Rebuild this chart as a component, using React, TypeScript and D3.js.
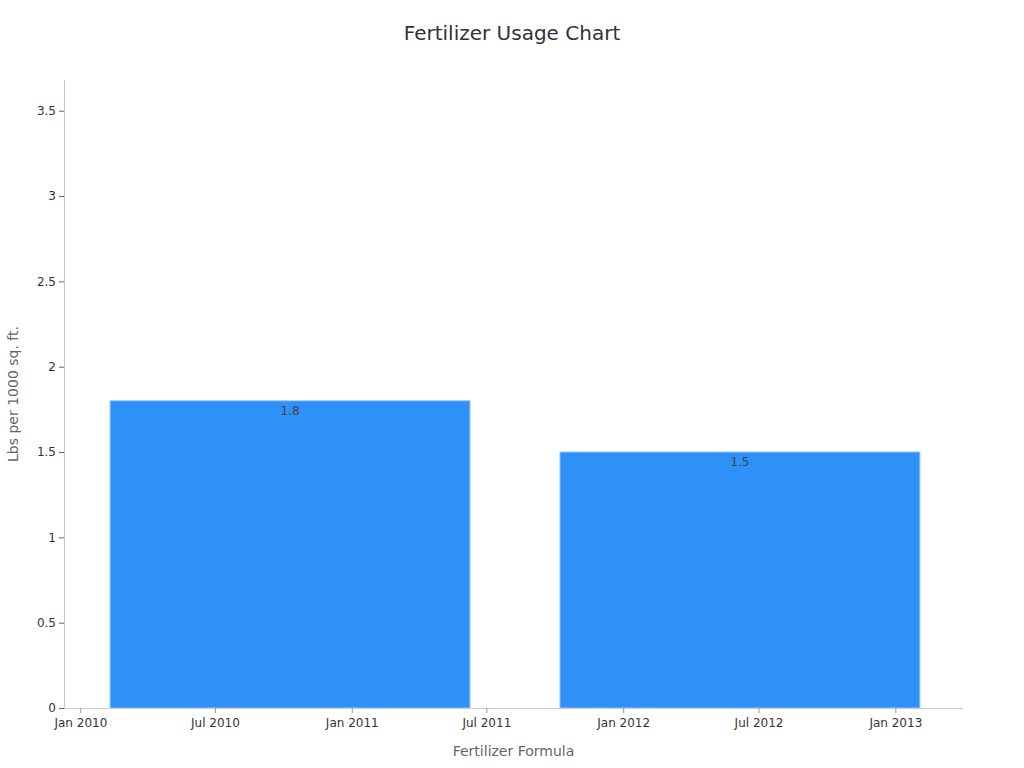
import React, { useEffect, useRef } from "react";
import * as d3 from "d3";

// Bars sit on a time axis (formula entries were read as dates)
const barDates = ["2010-10-10", "2012-06-06"];
const barValues = [1.8, 1.5];
const yTicks = [0, 0.5, 1, 1.5, 2, 2.5, 3, 3.5];
const xDomain = ["2009-12-10", "2013-04-02"];

const WIDTH = 1024;
const HEIGHT = 768;
const FONT = "'DejaVu Sans', sans-serif";

const App: React.FC = () => {
    const svgRef = useRef<SVGSVGElement | null>(null);

    useEffect(() => {
        if (!svgRef.current) return;
        const svg = d3.select(svgRef.current);
        svg.selectAll("*").remove();

        const margin = { top: 80, right: 61, bottom: 60, left: 64 };
        const innerWidth = WIDTH - margin.left - margin.right;
        const innerHeight = HEIGHT - margin.top - margin.bottom;

        const parse = d3.utcParse("%Y-%m-%d");
        const dates = barDates.map(d => parse(d) as Date);

        const x = d3
            .scaleUtc()
            .domain(xDomain.map(d => parse(d) as Date))
            .range([0, innerWidth]);

        const y = d3.scaleLinear().domain([0, 3.68]).range([innerHeight, 0]);

        const g = svg.append("g").attr("transform", `translate(${margin.left},${margin.top})`);

        // bar width = 0.8 of the spacing between the two dates
        const spacing = dates[1].getTime() - dates[0].getTime();
        const half = (spacing * 0.8) / 2;

        dates.forEach((d, i) => {
            const x0 = x(new Date(d.getTime() - half));
            const x1 = x(new Date(d.getTime() + half));
            g.append("rect")
                .attr("x", x0)
                .attr("y", y(barValues[i]))
                .attr("width", x1 - x0)
                .attr("height", y(0) - y(barValues[i]))
                .attr("fill", "#2e91f8")
                .attr("stroke", "#8cc4fb")
                .attr("stroke-width", 1);

            g.append("text")
                .attr("x", x(d))
                .attr("y", y(barValues[i]) + 14)
                .attr("text-anchor", "middle")
                .attr("fill", "#444")
                .style("font-family", FONT)
                .style("font-size", "12px")
                .text(String(barValues[i]));
        });

        // Y axis
        const yAxis = g.append("g").call(
            d3.axisLeft(y).tickValues(yTicks).tickSize(5).tickPadding(3).tickFormat(d => String(d))
        );
        yAxis.select(".domain").attr("stroke", "#ccc").attr("d", `M0.5,${innerHeight}V0`);
        yAxis.selectAll(".tick line").attr("stroke", "#666");
        yAxis.selectAll(".tick text")
            .attr("fill", "#333")
            .style("font-family", FONT)
            .style("font-size", "12px");

        // X axis
        const xAxis = g
            .append("g")
            .attr("transform", `translate(0,${innerHeight})`)
            .call(
                d3
                    .axisBottom(x)
                    .ticks(d3.utcMonth.every(6))
                    .tickSize(5)
                    .tickPadding(5)
                    .tickFormat(d => d3.utcFormat("%b %Y")(d as Date))
            );
        xAxis.select(".domain").attr("stroke", "#ccc").attr("d", `M0,0.5H${innerWidth}`);
        xAxis.selectAll(".tick line").attr("stroke", "#999");
        xAxis.selectAll(".tick text")
            .attr("fill", "#333")
            .style("font-family", FONT)
            .style("font-size", "12px");

        // Title
        svg.append("text")
            .attr("x", WIDTH / 2)
            .attr("y", 40)
            .attr("text-anchor", "middle")
            .attr("fill", "#333")
            .style("font-family", FONT)
            .style("font-size", "20px")
            .text("Fertilizer Usage Chart");

        // Axis titles
        svg.append("text")
            .attr("x", margin.left + innerWidth / 2)
            .attr("y", 756)
            .attr("text-anchor", "middle")
            .attr("fill", "#666")
            .style("font-family", FONT)
            .style("font-size", "14px")
            .text("Fertilizer Formula");

        svg.append("text")
            .attr("transform", "rotate(-90)")
            .attr("x", -(margin.top + innerHeight / 2))
            .attr("y", 18)
            .attr("text-anchor", "middle")
            .attr("fill", "#666")
            .style("font-family", FONT)
            .style("font-size", "14px")
            .text("Lbs per 1000 sq. ft.");
    }, []);

    return (
        <div style={{ position: "absolute", left: 0, top: 0, background: "#fff" }}>
            <svg ref={svgRef} width={WIDTH} height={HEIGHT} />
        </div>
    );
};

export default App;
